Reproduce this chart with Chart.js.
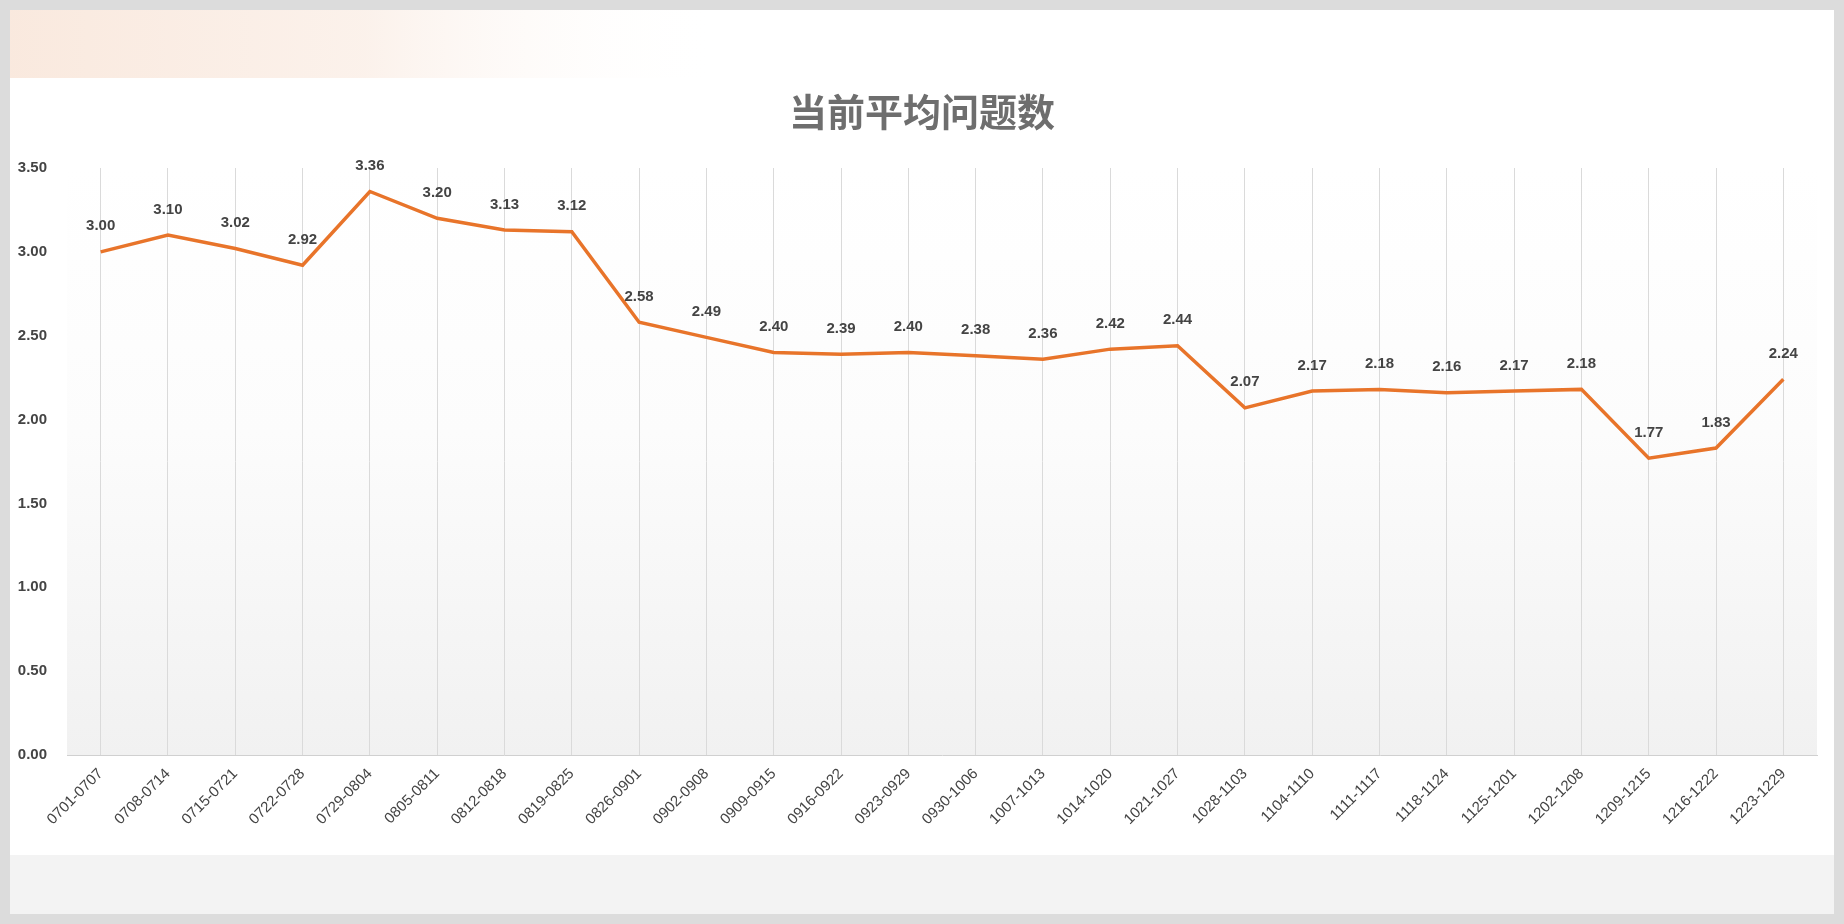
<!DOCTYPE html>
<html>
<head>
<meta charset="utf-8">
<script src="https://cdn.jsdelivr.net/npm/chart.js@4"></script>
<style>
  html, body { margin: 0; padding: 0; background: #fff; }
  #wrap { position: relative; width: 1844px; height: 924px; }
</style>
</head>
<body>
<div id="wrap"><canvas id="myChart" width="1844" height="924"></canvas></div>
<script>
const weeks = ["0701-0707", "0708-0714", "0715-0721", "0722-0728", "0729-0804", "0805-0811", "0812-0818",
  "0819-0825", "0826-0901", "0902-0908", "0909-0915", "0916-0922", "0923-0929", "0930-1006", "1007-1013",
  "1014-1020", "1021-1027", "1028-1103", "1104-1110", "1111-1117", "1118-1124", "1125-1201", "1202-1208",
  "1209-1215", "1216-1222", "1223-1229"];
const avgIssues = [3.00, 3.10, 3.02, 2.92, 3.36, 3.20, 3.13, 3.12, 2.58, 2.49, 2.40, 2.39, 2.40, 2.38, 2.36,
  2.42, 2.44, 2.07, 2.17, 2.18, 2.16, 2.17, 2.18, 1.77, 1.83, 2.24];
const chartTitle = "当前平均问题数";

const font = "'Liberation Sans', Arial, sans-serif";

// page frame, top band, plot background, title
const frame = {
  id: "frame",
  beforeDraw(chart) {
    const ctx = chart.ctx;
    const area = chart.chartArea;
    ctx.save();
    ctx.fillStyle = "#fff";
    ctx.fillRect(0, 0, 1844, 924);

    var band = ctx.createLinearGradient(10, 0, 720, 0);
    band.addColorStop(0, "rgba(245,215,195,0.55)");
    band.addColorStop(0.5, "rgba(248,228,215,0.5)");
    band.addColorStop(1, "rgba(255,255,255,0)");
    ctx.fillStyle = band;
    ctx.fillRect(10, 10, 720, 68);

    var bg = ctx.createLinearGradient(0, area.top, 0, area.bottom);
    bg.addColorStop(0, "#ffffff");
    bg.addColorStop(0.45, "#fcfcfc");
    bg.addColorStop(1, "#f1f1f1");
    ctx.fillStyle = bg;
    ctx.fillRect(area.left, area.top, area.right - area.left, area.bottom - area.top);

    ctx.fillStyle = "#f3f3f3";
    ctx.fillRect(10, 855, 1824, 60);

    ctx.strokeStyle = "#dcdcdc";
    ctx.lineWidth = 10;
    ctx.strokeRect(5, 5, 1834, 914);

    ctx.fillStyle = "#6e6e6e";
    ctx.font = "bold 38px 'Noto Sans CJK SC'";
    ctx.textAlign = "center";
    ctx.textBaseline = "middle";
    ctx.fillText(chartTitle, 922, 112);
    ctx.restore();
  },
  afterDatasetsDraw(chart) {
    const ctx = chart.ctx;
    const meta = chart.getDatasetMeta(0);
    ctx.save();
    ctx.fillStyle = "#444";
    ctx.font = "bold 15px " + font;
    ctx.textAlign = "center";
    ctx.textBaseline = "bottom";
    meta.data.forEach(function (pt, i) {
      ctx.fillText(avgIssues[i].toFixed(2), pt.x, pt.y - 18);
    });
    ctx.restore();
  },
};

new Chart(document.getElementById("myChart"), {
  type: "line",
  data: {
    labels: weeks,
    datasets: [
      {
        data: avgIssues,
        borderColor: "#e8742a",
        borderWidth: 3.5,
        pointRadius: 0,
        tension: 0,
      },
    ],
  },
  options: {
    responsive: false,
    animation: false,
    layout: { padding: { left: 17, right: 27, top: 168, bottom: 0 } },
    plugins: { legend: { display: false }, tooltip: { enabled: false } },
    scales: {
      x: {
        offset: true,
        grid: { offset: false, color: "#dadada", drawTicks: false },
        border: { color: "#d0d0d0" },
        afterFit: function (s) { s.height = 169; },
        ticks: {
          minRotation: 45,
          maxRotation: 45,
          padding: 10,
          color: "#444",
          font: { family: font, size: 15 },
        },
      },
      y: {
        min: 0,
        max: 3.5,
        grid: { display: false },
        border: { display: false },
        afterFit: function (s) { s.width = 50; },
        ticks: {
          stepSize: 0.5,
          padding: 12,
          color: "#444",
          font: { family: font, size: 15, weight: "bold" },
          callback: function (v) { return v.toFixed(2); },
        },
      },
    },
  },
  plugins: [frame],
});
</script>
</body>
</html>
